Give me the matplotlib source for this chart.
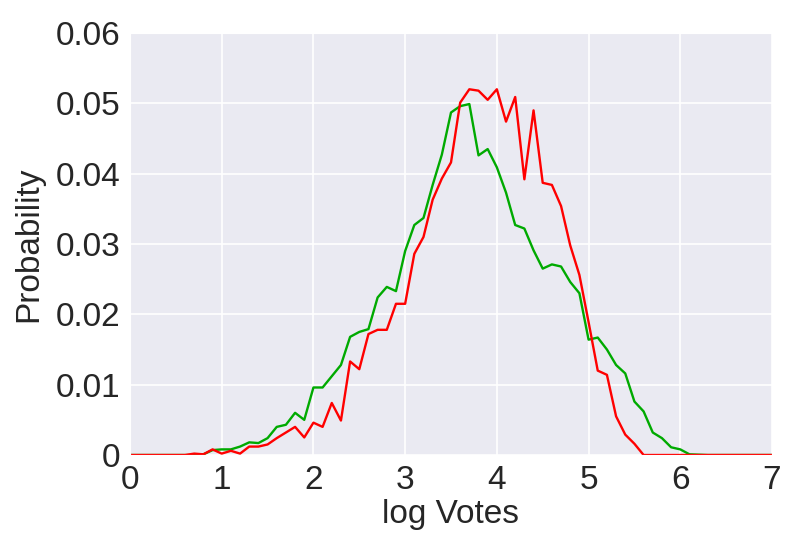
import numpy as np
import matplotlib
matplotlib.use("Agg")
import matplotlib.pyplot as plt
import seaborn as sns

# log Votes bins, step 0.1 from 0 to 7
log_votes = np.round(np.arange(0, 71) * 0.1, 1)

# green series
green = [
    0, 0, 0, 0, 0, 0, 0, 0, 0.0001, 0.0007,              # 0.0 - 0.9
    0.0008, 0.0008, 0.0012, 0.0018, 0.0017, 0.0024, 0.0040, 0.0043, 0.0060, 0.0050,  # 1.x
    0.0096, 0.0096, 0.0112, 0.0128, 0.0168, 0.0175, 0.0179, 0.0224, 0.0239, 0.0233,  # 2.x
    0.0290, 0.0327, 0.0337, 0.0384, 0.0427, 0.0487, 0.0496, 0.0499, 0.0426, 0.0435,  # 3.x
    0.0409, 0.0373, 0.0327, 0.0322, 0.0291, 0.0265, 0.0271, 0.0268, 0.0246, 0.0230,  # 4.x
    0.0164, 0.0167, 0.0150, 0.0128, 0.0116, 0.0076, 0.0062, 0.0032, 0.0024, 0.0011,  # 5.x
    0.0008, 0.0001, 0.00005, 0, 0, 0, 0, 0, 0, 0,        # 6.x
    0,                                                   # 7.0
]

# red series
red = [
    0, 0, 0, 0, 0, 0, 0, 0.0002, 0.0001, 0.0008,         # 0.0 - 0.9
    0.0002, 0.0006, 0.0002, 0.0012, 0.0012, 0.0015, 0.0024, 0.0032, 0.0040, 0.0025,  # 1.x
    0.0046, 0.0040, 0.0074, 0.0049, 0.0133, 0.0122, 0.0172, 0.0178, 0.0178, 0.0215,  # 2.x
    0.0215, 0.0286, 0.0310, 0.0363, 0.0393, 0.0416, 0.0501, 0.0520, 0.0518, 0.0505,  # 3.x
    0.0520, 0.0474, 0.0509, 0.0392, 0.0490, 0.0387, 0.0384, 0.0354, 0.0298, 0.0256,  # 4.x
    0.0189, 0.0120, 0.0114, 0.0055, 0.0029, 0.0016, 0, 0, 0, 0,                      # 5.x
    0, 0, 0, 0, 0, 0, 0, 0, 0, 0,                        # 6.x
    0,                                                   # 7.0
]

xticks = [0, 1, 2, 3, 4, 5, 6, 7]
yticks = [0, 0.01, 0.02, 0.03, 0.04, 0.05, 0.06]
ytick_labels = ["0", "0.01", "0.02", "0.03", "0.04", "0.05", "0.06"]

sns.set_style("darkgrid")
plt.rcParams['font.family'] = ['Liberation Sans', 'DejaVu Sans']

fig = plt.figure(figsize=(8, 5.5), dpi=100)
ax = fig.add_axes([0.1625, 0.1727, 0.8025, 0.7673])

ax.plot(log_votes, green, color='#00AA00', lw=1.7)
ax.plot(log_votes, red, color='#FF0000', lw=1.7)

ax.set_xlim(0, 7)
ax.set_ylim(0, 0.06)
ax.set_xticks(xticks)
ax.set_xticklabels([str(t) for t in xticks])
ax.set_yticks(yticks)
ax.set_yticklabels(ytick_labels)
ax.tick_params(labelsize=24, length=0, pad=7)
ax.set_xlabel('log Votes', fontsize=24, labelpad=2)
ax.set_ylabel('Probability', fontsize=24, labelpad=8)
ax.grid(color='white', lw=1.2)

fig.savefig('out.png', dpi=100)
